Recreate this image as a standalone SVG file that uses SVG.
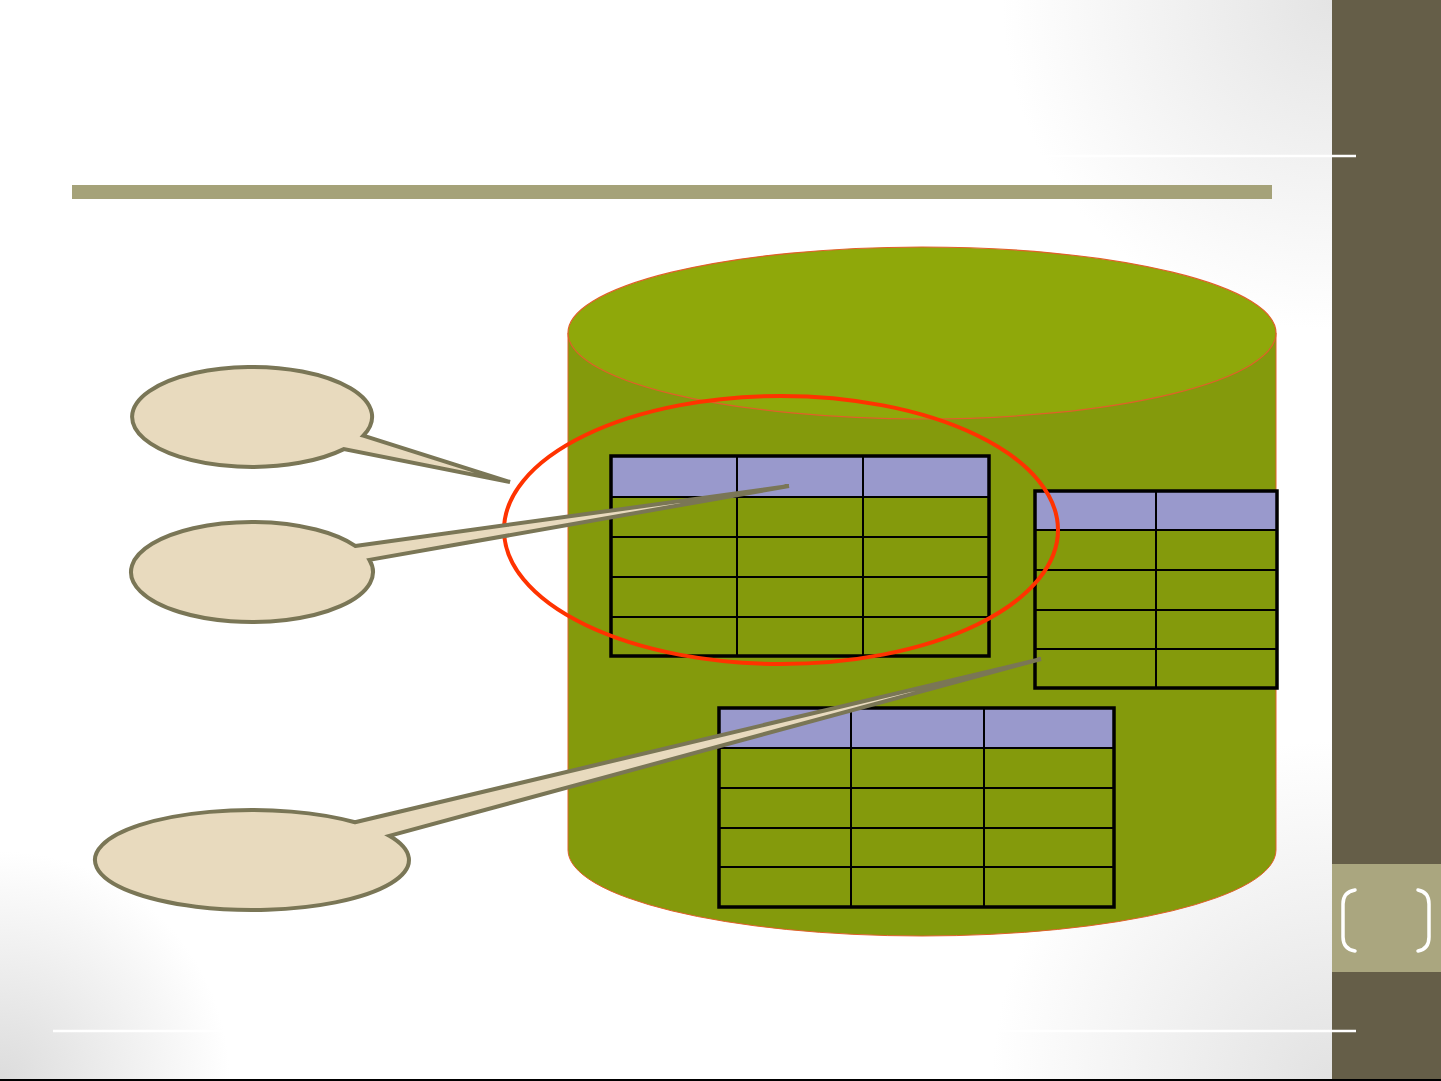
<svg xmlns="http://www.w3.org/2000/svg" width="1441" height="1081" viewBox="0 0 1441 1081">
  <defs>
    <radialGradient id="gTR" gradientUnits="userSpaceOnUse" cx="1332" cy="0" r="330">
      <stop offset="0" stop-color="#e4e4e4" stop-opacity="1"/>
      <stop offset="0.4" stop-color="#e4e4e4" stop-opacity="0.6"/>
      <stop offset="1" stop-color="#e4e4e4" stop-opacity="0"/>
    </radialGradient>
    <radialGradient id="gBR" gradientUnits="userSpaceOnUse" cx="1332" cy="1081" r="340">
      <stop offset="0" stop-color="#e2e2e2" stop-opacity="1"/>
      <stop offset="0.4" stop-color="#e2e2e2" stop-opacity="0.6"/>
      <stop offset="1" stop-color="#e2e2e2" stop-opacity="0"/>
    </radialGradient>
    <radialGradient id="gBL" gradientUnits="userSpaceOnUse" cx="0" cy="1081" r="230">
      <stop offset="0" stop-color="#dcdcdc" stop-opacity="1"/>
      <stop offset="0.4" stop-color="#dcdcdc" stop-opacity="0.6"/>
      <stop offset="1" stop-color="#dcdcdc" stop-opacity="0"/>
    </radialGradient>
    <style>
      .cyl-side { fill: #849a0c; stroke: #e0602a; stroke-width: 1; }
      .cyl-top { fill: #8fa80a; stroke: #e0602a; stroke-width: 1.2; }
      .hdr { fill: #9999cc; }
      .body { fill: #849a0c; }
      .grid { stroke: #000; stroke-width: 2; fill: none; }
      .border { stroke: #000; stroke-width: 3.5; fill: none; }
      .callout { fill: #e8dabe; stroke: #7a7656; stroke-width: 4; stroke-linejoin: miter; }
      .mark { fill: none; stroke: #ff3300; stroke-width: 4; }
      .wline { stroke: #ffffff; stroke-width: 2.5; }
    </style>
  </defs>

  <!-- background -->
  <rect x="0" y="0" width="1441" height="1081" fill="#ffffff"/>
  <rect x="0" y="0" width="1441" height="1081" fill="url(#gTR)"/>
  <rect x="0" y="0" width="1441" height="1081" fill="url(#gBR)"/>
  <rect x="0" y="0" width="1441" height="1081" fill="url(#gBL)"/>

  <!-- sidebar -->
  <g id="sidebar">
    <rect x="1332" y="0" width="109" height="1081" fill="#655e48"/>
    <rect x="1332" y="864" width="109" height="108" fill="#aaa67f"/>
    <path d="M1355 890 Q1343 892 1343 904 L1343 937 Q1343 949 1355 951" fill="none" stroke="#ffffff" stroke-width="3.5" stroke-linecap="round"/>
    <path d="M1418 890 Q1429 892 1429 904 L1429 937 Q1429 949 1418 951" fill="none" stroke="#ffffff" stroke-width="3.5" stroke-linecap="round"/>
  </g>

  <line class="wline" x1="53" y1="156" x2="1356" y2="156"/>
  <line class="wline" x1="53" y1="1031" x2="1356" y2="1031"/>
  <rect x="0" y="1079" width="1441" height="2" fill="#000000"/>

  <!-- title bar -->
  <rect id="title-bar" x="72" y="185" width="1200" height="14" fill="#a5a279"/>

  <!-- database cylinder -->
  <g id="database">
    <path class="cyl-side" d="M568 333 L568 850 A354 86 0 0 0 1276 850 L1276 333 Z"/>
    <ellipse class="cyl-top" cx="922" cy="333" rx="354" ry="86"/>
  </g>

  <!-- table 1 -->
  <g id="table1">
    <rect class="hdr" x="611" y="456" width="378" height="41"/>
    <rect class="body" x="611" y="497" width="378" height="159"/>
    <path class="grid" d="M737 456 V656 M863 456 V656 M611 497 H989 M611 537 H989 M611 577 H989 M611 617 H989"/>
    <rect class="border" x="611" y="456" width="378" height="200"/>
  </g>

  <!-- table 2 -->
  <g id="table2">
    <rect class="hdr" x="1035" y="491" width="242" height="39"/>
    <rect class="body" x="1035" y="530" width="242" height="158"/>
    <path class="grid" d="M1156 491 V688 M1035 530 H1277 M1035 570 H1277 M1035 610 H1277 M1035 649 H1277"/>
    <rect class="border" x="1035" y="491" width="242" height="197"/>
  </g>

  <!-- table 3 -->
  <g id="table3">
    <rect class="hdr" x="719" y="708" width="395" height="40"/>
    <rect class="body" x="719" y="748" width="395" height="159"/>
    <path class="grid" d="M851 708 V907 M984 708 V907 M719 748 H1114 M719 788 H1114 M719 828 H1114 M719 867 H1114"/>
    <rect class="border" x="719" y="708" width="395" height="199"/>
  </g>

  <!-- highlight ellipse -->
  <g id="highlight">
    <ellipse class="mark" cx="781" cy="530" rx="277" ry="134"/>
  </g>

  <!-- callouts -->
  <g id="connectors">
    <g id="callout1">
      <path class="callout" d="M363.3 435.7 L510 482 L343.9 449.1 A120 50 0 1 1 363.3 435.7 Z"/>
    </g>
    <g id="callout2">
      <path class="callout" d="M355.2 545.9 L789 486 L369.4 559.9 A121 50 0 1 1 355.2 545.9 Z"/>
    </g>
    <g id="callout3">
      <path class="callout" d="M355 822.3 L1041 659 L389.3 835.8 A157 50 0 1 1 355 822.3 Z"/>
    </g>
  </g>
</svg>
